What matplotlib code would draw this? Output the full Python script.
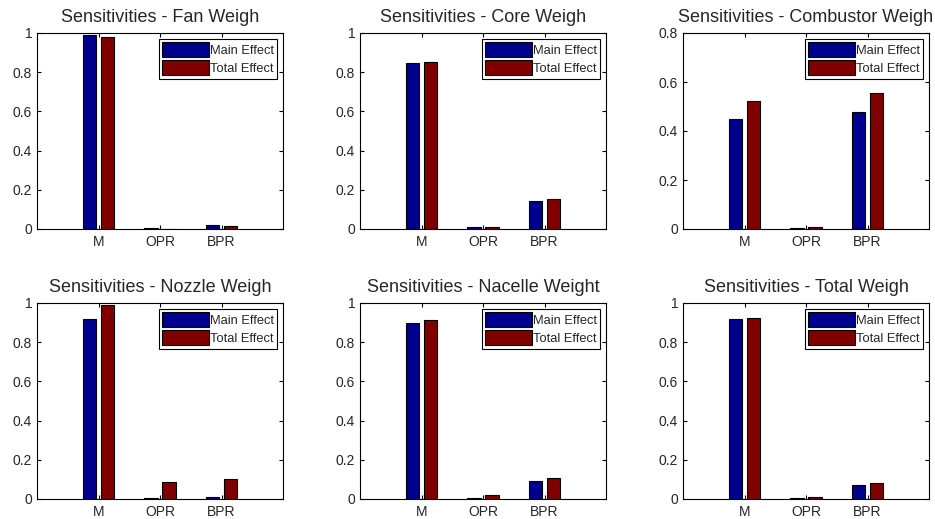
import numpy as np
import matplotlib
matplotlib.use('Agg')
import matplotlib.pyplot as plt

plt.rcParams['font.family'] = ['Liberation Sans', 'DejaVu Sans']

# Dados
categorias = ['M', 'OPR', 'BPR']
titulos = ['Sensitivities - Fan Weigh', 'Sensitivities - Core Weigh',
           'Sensitivities - Combustor Weigh', 'Sensitivities - Nozzle Weigh',
           'Sensitivities - Nacelle Weight', 'Sensitivities - Total Weigh']
main_effect = [
    [0.990, 0.003, 0.020],
    [0.845, 0.010, 0.143],
    [0.447, 0.004, 0.477],
    [0.920, 0.004, 0.010],
    [0.897, 0.004, 0.090],
    [0.920, 0.004, 0.072],
]
total_effect = [
    [0.982, 0.001, 0.017],
    [0.850, 0.010, 0.153],
    [0.523, 0.008, 0.556],
    [0.990, 0.085, 0.100],
    [0.913, 0.020, 0.107],
    [0.925, 0.010, 0.083],
]
ylims = [1, 1, 0.8, 1, 1, 1]

fig = plt.figure(figsize=(9.35, 5.19), dpi=100)

lefts = [37, 360, 683]
tops = [33, 303]
w, h = 246, 196
cor_texto = '#262626'

x = np.arange(1, len(categorias) + 1)
largura = 0.22
desloc = 0.145

for i in range(6):
    lin, col = divmod(i, 3)
    ax = fig.add_axes([lefts[col] / 935, 1 - (tops[lin] + h) / 519, w / 935, h / 519])
    ax.bar(x - desloc, main_effect[i], largura, color='#00008F',
           edgecolor='black', linewidth=0.8, label='Main Effect')
    ax.bar(x + desloc, total_effect[i], largura, color='#800000',
           edgecolor='black', linewidth=0.8, label='Total Effect')
    ax.set_xlim(0, 4)
    ax.set_ylim(0, ylims[i])
    yt = np.arange(0, ylims[i] + 0.001, 0.2)
    ax.set_yticks(yt)
    ax.set_yticklabels(['0' if v == 0 else ('1' if abs(v - 1) < 1e-9 else '%.1f' % v)
                        for v in yt])
    ax.set_xticks(x)
    ax.set_xticklabels(categorias)
    ax.tick_params(direction='in', top=True, right=True, length=3,
                   labelsize=10, labelcolor=cor_texto)
    ax.tick_params(axis='x', pad=4)
    for s in ax.spines.values():
        s.set_linewidth(0.8)
    ax.set_title(titulos[i], fontsize=13, pad=8, color=cor_texto)
    leg = ax.legend(loc='upper right', fontsize=9.3, fancybox=False,
                    framealpha=1, edgecolor='black', borderaxespad=0.45,
                    handlelength=3.6, handleheight=1.45, handletextpad=0.1,
                    borderpad=0.25, labelspacing=0.2)
    leg.get_frame().set_linewidth(0.8)
    for t in leg.get_texts():
        t.set_color(cor_texto)

fig.savefig('out.png', dpi=100)
